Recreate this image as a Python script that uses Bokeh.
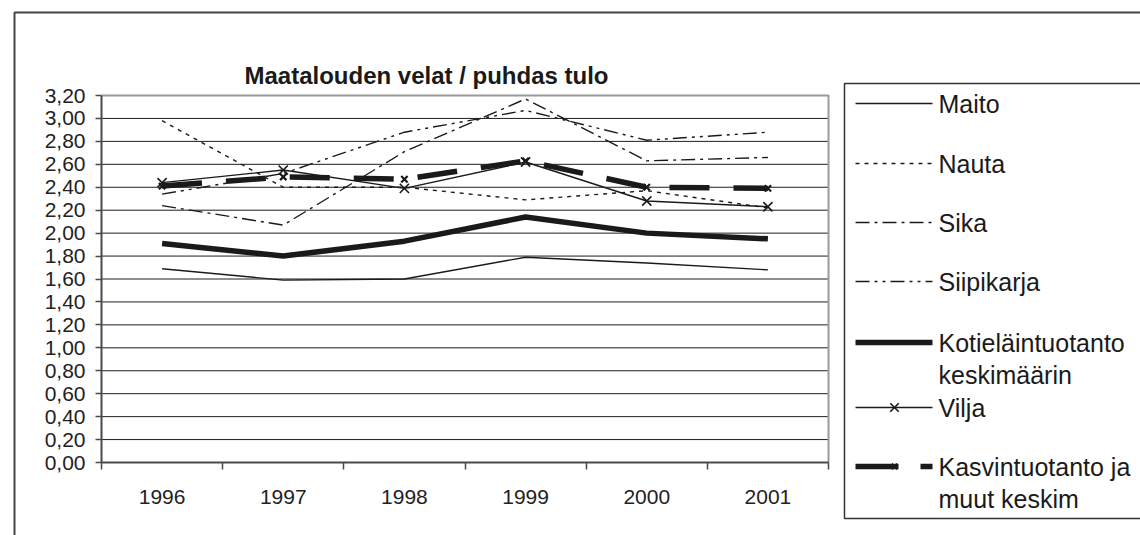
from bokeh.plotting import figure
from bokeh.models import (FixedTicker, CustomJSTickFormatter, Range1d, ColumnDataSource)
from bokeh.core.properties import value
from bokeh.embed import file_html
from bokeh.resources import INLINE

# ---------------- data ----------------
years = ["1996", "1997", "1998", "1999", "2000", "2001"]
maito = [1.69, 1.59, 1.60, 1.79, 1.74, 1.68]
nauta = [2.98, 2.40, 2.40, 2.29, 2.37, 2.22]
sika = [2.24, 2.07, 2.71, 3.17, 2.63, 2.66]
siipikarja = [2.34, 2.52, 2.88, 3.07, 2.81, 2.88]
kotielain = [1.91, 1.80, 1.93, 2.14, 2.00, 1.95]
vilja = [2.44, 2.55, 2.39, 2.62, 2.28, 2.23]
kasvin = [2.41, 2.49, 2.47, 2.63, 2.40, 2.39]
y_ticks = [0.0, 0.2, 0.4, 0.6, 0.8, 1.0, 1.2, 1.4, 1.6, 1.8, 2.0,
           2.2, 2.4, 2.6, 2.8, 3.0, 3.2]
title_text = "Maatalouden velat / puhdas tulo"
legend_labels = ["Maito", "Nauta", "Sika", "Siipikarja",
                 ["Kotieläintuotanto", "keskimäärin"], "Vilja",
                 ["Kasvintuotanto ja", "muut keskim"]]

# ---------------- layout (pixels) ----------------
FIG_W, FIG_H = 1140, 535
PA_L, PA_R, PA_T, PA_B = 101, 828, 95, 462     # plot area
n = len(years)
ux = (PA_R - PA_L) / n
uy = (PA_B - PA_T) / (y_ticks[-1] - y_ticks[0])

FONT = "Liberation Sans"
INK = "#1a1a1a"
AX = "#4a4a4a"

x_pos = [i + 0.5 for i in range(n)]
src = ColumnDataSource(dict(x=x_pos, year=years, maito=maito, nauta=nauta,
                            sika=sika, siipikarja=siipikarja,
                            kotielain=kotielain, vilja=vilja, kasvin=kasvin))

p = figure(width=FIG_W, height=FIG_H, output_backend="svg", toolbar_location=None,
           x_range=Range1d(-PA_L / ux, (FIG_W - PA_L) / ux),
           y_range=Range1d(-(FIG_H - PA_B) / uy, PA_B / uy),
           min_border=0, min_border_left=0, min_border_right=0,
           min_border_top=0, min_border_bottom=0)
p.extra_x_ranges = {"px": Range1d(0, FIG_W)}
p.extra_y_ranges = {"px": Range1d(FIG_H, 0)}
p.background_fill_color = "white"
p.border_fill_color = "white"
p.outline_line_color = None
p.xgrid.visible = False
p.ygrid.visible = False

# axes drawn at fixed data locations
p.yaxis.fixed_location = 0
p.yaxis.bounds = (y_ticks[0], y_ticks[-1])
p.yaxis.ticker = FixedTicker(ticks=y_ticks)
p.yaxis.formatter = CustomJSTickFormatter(code="return tick.toFixed(2).replace('.', ',')")
p.yaxis.major_tick_out = 6
p.yaxis.major_tick_in = 0
p.yaxis.minor_tick_line_color = None
p.yaxis.major_label_standoff = 10
for ax in (p.xaxis, p.yaxis):
    ax.axis_line_color = AX
    ax.axis_line_width = 2
    ax.major_tick_line_color = AX
    ax.major_tick_line_width = 1.5
    ax.major_label_text_font = FONT
    ax.major_label_text_font_size = "21px"
    ax.major_label_text_color = "#222222"

p.xaxis.fixed_location = y_ticks[0]
p.xaxis.bounds = (0, n)
p.xaxis.ticker = FixedTicker(ticks=x_pos, minor_ticks=list(range(n + 1)))
p.xaxis.formatter = CustomJSTickFormatter(args=dict(labels=years),
                                          code="return labels[Math.floor(tick)]")
p.xaxis.major_tick_line_color = None
p.xaxis.major_tick_out = 0
p.xaxis.major_tick_in = 0
p.xaxis.minor_tick_out = 7
p.xaxis.minor_tick_in = 0
p.xaxis.minor_tick_line_color = AX
p.xaxis.minor_tick_line_width = 1.5
p.xaxis.major_label_standoff = 20

# horizontal gridlines and plot-area border
grid_y = y_ticks[1:-1]
p.segment(x0=[0] * len(grid_y), x1=[n] * len(grid_y), y0=grid_y, y1=grid_y,
          line_color="#1e1e1e", line_width=1)
p.line([0, n, n], [y_ticks[-1], y_ticks[-1], y_ticks[0]], line_color="#9a9a9a", line_width=2)

# outer chart frame (pixel space)
p.line([14, 14, FIG_W + 20], [FIG_H + 20, 12, 12], x_range_name="px", y_range_name="px",
       line_color="#444444", line_width=2)

# series
p.line("x", "maito", source=src, line_color=INK, line_width=1.4)
p.line("x", "nauta", source=src, line_color=INK, line_width=1.4, line_dash="4 5")
p.line("x", "sika", source=src, line_color=INK, line_width=1.4, line_dash="14 5 3 5")
p.line("x", "siipikarja", source=src, line_color=INK, line_width=1.4,
       line_dash="14 5 3 5 3 5")
p.line("x", "kotielain", source=src, line_color=INK, line_width=5.5)
p.line("x", "vilja", source=src, line_color=INK, line_width=1.4)
p.scatter("x", "vilja", source=src, marker="x", size=13, line_color=INK, line_width=1.6)
p.line("x", "kasvin", source=src, line_color=INK, line_width=5.5, line_dash="40 24")
p.scatter("x", "kasvin", source=src, marker="x", size=9, line_color=INK, line_width=2.2)

# title (pixel space)
p.text(x=[426], y=[75], text=[title_text], x_range_name="px", y_range_name="px",
       text_font=value(FONT), text_font_size="24px", text_font_style="bold",
       text_color="#1a1a1a", text_align="center", text_baseline="middle")

# legend (pixel space): white box, border open on the right (runs off the page)
p.quad(left=[844], right=[FIG_W + 20], top=[83], bottom=[518],
       x_range_name="px", y_range_name="px",
       fill_color="white", line_color=None)
p.line([FIG_W + 20, 844, 844, FIG_W + 20], [83, 83, 518, 518],
       x_range_name="px", y_range_name="px", line_color="#333333", line_width=1.5)

G0, G1, TX = 855, 932, 938
legend_rows = [103, 163, 222, 281, 342, 407, 466]
legend_styles = [
    dict(line_width=1.4, line_dash="solid"),
    dict(line_width=1.4, line_dash="4 5"),
    dict(line_width=1.4, line_dash="14 5 3 5"),
    dict(line_width=1.4, line_dash="14 5 3 5 3 5"),
    dict(line_width=5.5, line_dash="solid"),
    dict(line_width=1.4, line_dash="solid"),
    dict(line_width=5.5, line_dash="43 22"),
]
legend_marks = [None, None, None, None, None, (894, 12, 1.6), (894, 8, 2.2)]

for lab, row, st, mk in zip(legend_labels, legend_rows, legend_styles, legend_marks):
    p.line([G0, G1], [row, row], x_range_name="px", y_range_name="px",
           line_color=INK, **st)
    if mk is not None:
        cx, sz, lw = mk
        p.scatter([cx], [row], x_range_name="px", y_range_name="px", marker="x",
                  size=sz, line_color=INK, line_width=lw)
    lines = lab if isinstance(lab, list) else [lab]
    p.text(x=[TX] * len(lines), y=[row + 32 * k for k in range(len(lines))], text=lines,
           x_range_name="px", y_range_name="px",
           text_font=value(FONT), text_font_size="25px", text_color="#1a1a1a",
           text_align="left", text_baseline="middle")

open("out.html", "w").write(file_html(p, INLINE))
